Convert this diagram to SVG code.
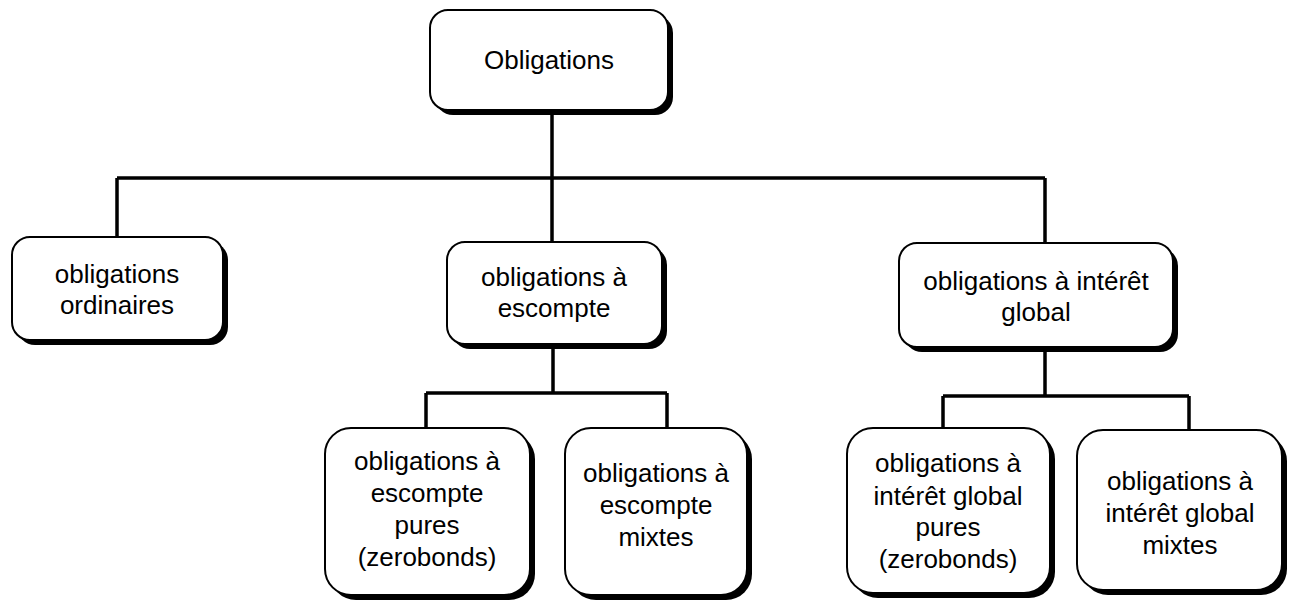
<svg xmlns="http://www.w3.org/2000/svg" width="1294" height="604" viewBox="0 0 1294 604">
<style>
.sh{fill:#000}
.bx{fill:#fff;stroke:#000;stroke-width:2}
.t{font-family:"Liberation Sans",Arial,sans-serif;font-size:26px;fill:#000;text-anchor:middle}
.c{fill:none;stroke:#000;stroke-width:3.5;stroke-linejoin:miter}
</style>
<rect width="1294" height="604" fill="#fff"/>
<g id="connectors">
<path class="c" d="M552 112V178M117 178H1045M117 178V238M552 178V241M1045 178V242"/>
<path class="c" d="M553 348V393M426 393H667M426 393V428M667 393V428"/>
<path class="c" d="M1045 352V396M943 396H1189M943 396V428M1189 396V430"/>
</g>
<g id="n-obligations">
<rect class="sh" x="435" y="15" width="238" height="100" rx="18"/>
<rect class="bx" x="430" y="10" width="238" height="100" rx="18"/>
<text class="t" x="549" y="69">Obligations</text>
</g>
<g id="n-ordinaires">
<rect class="sh" x="17" y="242" width="211" height="103" rx="18"/>
<rect class="bx" x="12" y="237" width="211" height="103" rx="18"/>
<text class="t" x="117" y="283">obligations</text>
<text class="t" x="117" y="314">ordinaires</text>
</g>
<g id="n-escompte">
<rect class="sh" x="452" y="247" width="215" height="102" rx="18"/>
<rect class="bx" x="447" y="242" width="215" height="102" rx="18"/>
<text class="t" x="554" y="286">obligations à</text>
<text class="t" x="554" y="317">escompte</text>
</g>
<g id="n-interet">
<rect class="sh" x="904" y="248" width="274" height="104" rx="18"/>
<rect class="bx" x="899" y="243" width="274" height="104" rx="18"/>
<text class="t" x="1036" y="290">obligations à intérêt</text>
<text class="t" x="1036" y="321">global</text>
</g>
<g id="n-esc-pures">
<rect class="sh" x="330" y="433" width="205" height="167" rx="26"/>
<rect class="bx" x="325" y="428" width="205" height="167" rx="26"/>
<text class="t" x="427" y="470">obligations à</text>
<text class="t" x="427" y="502">escompte</text>
<text class="t" x="427" y="534">pures</text>
<text class="t" x="427" y="566">(zerobonds)</text>
</g>
<g id="n-esc-mixtes">
<rect class="sh" x="570" y="433" width="182" height="167" rx="26"/>
<rect class="bx" x="565" y="428" width="182" height="167" rx="26"/>
<text class="t" x="656" y="482">obligations à</text>
<text class="t" x="656" y="514">escompte</text>
<text class="t" x="656" y="546">mixtes</text>
</g>
<g id="n-int-pures">
<rect class="sh" x="852" y="433" width="203" height="165" rx="26"/>
<rect class="bx" x="847" y="428" width="203" height="165" rx="26"/>
<text class="t" x="948" y="472">obligations à</text>
<text class="t" x="948" y="505">intérêt global</text>
<text class="t" x="948" y="536">pures</text>
<text class="t" x="948" y="568">(zerobonds)</text>
</g>
<g id="n-int-mixtes">
<rect class="sh" x="1082" y="435" width="205" height="160" rx="26"/>
<rect class="bx" x="1077" y="430" width="205" height="160" rx="26"/>
<text class="t" x="1180" y="490">obligations à</text>
<text class="t" x="1180" y="522">intérêt global</text>
<text class="t" x="1180" y="554">mixtes</text>
</g>
</svg>
